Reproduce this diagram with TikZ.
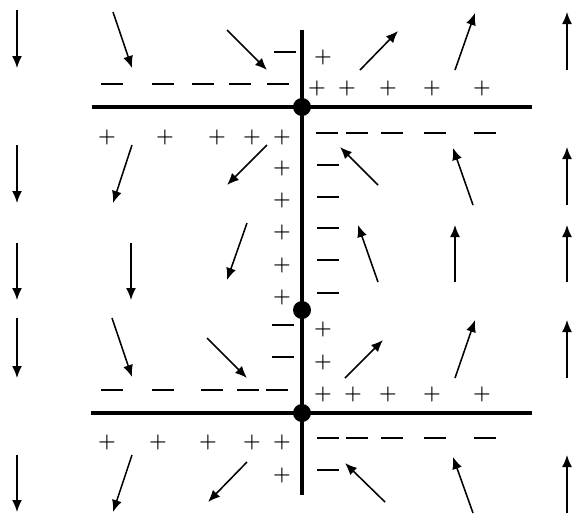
\documentclass[tikz,border=0pt]{standalone}
\usetikzlibrary{arrows.meta}
\tikzset{
  field/.style={line width=1.1pt,-{Latex[length=3mm,width=2.5mm]}},
  plate/.style={line width=3.2pt},
  joint/.style={circle,fill,inner sep=0pt,minimum size=0.45cm},
  poschg/.style={font=\Large\bfseries,inner sep=0pt},
  negchg/.style={inner sep=0pt}
}
\newcommand{\pls}{+}
\newcommand{\mns}{\rule{0.55cm}{1pt}}

\begin{document}
\begin{tikzpicture}[x=0.025cm,y=-0.025cm]
\useasboundingbox (0,0) rectangle (572,516);
% plates
\draw[plate](302,30)--(302,495);
\draw[plate](92,107)--(532,107);
\draw[plate](91,413)--(532,413);
\node[joint] (j1) at (302,107) {};
\node[joint] (j2) at (302,310) {};
\node[joint] (j3) at (302,413) {};
% charges above upper plate
\foreach \x [count=\i] in {112,163,203,240,278}
  \node[negchg] (nu\i) at (\x,84) {\mns};
\foreach \x [count=\i] in {317,347,388,432,482}
  \node[poschg] (pu\i) at (\x,88) {\pls};
\node[negchg] (nt) at (285,52) {\mns};
\node[poschg] (pt) at (323,57) {\pls};
% charges below upper plate
\foreach \x [count=\i] in {107,165,217,252,282}
  \node[poschg] (pl\i) at (\x,137) {\pls};
\foreach \y [count=\i] in {168,200,232,265,297}
  \node[poschg] (pc\i) at (282,\y) {\pls};
\foreach \x [count=\i] in {327,357,392,435,485}
  \node[negchg] (nl\i) at (\x,133) {\mns};
\foreach \y [count=\i] in {165,197,228,260,293}
  \node[negchg] (nc\i) at (328,\y) {\mns};
% charges above lower plate
\foreach \y [count=\i] in {325,357}
  \node[negchg] (nm\i) at (283,\y) {\mns};
\foreach \x [count=\i] in {112,163,212,248,277}
  \node[negchg] (nr\i) at (\x,390) {\mns};
\foreach \y [count=\i] in {329,362}
  \node[poschg] (pm\i) at (323,\y) {\pls};
\foreach \x [count=\i] in {323,353,388,432,482}
  \node[poschg] (pr\i) at (\x,394) {\pls};
% charges below lower plate
\foreach \x [count=\i] in {107,158,208,252,282}
  \node[poschg] (pb\i) at (\x,442) {\pls};
\node[poschg] (pe) at (282,475) {\pls};
\foreach \x [count=\i] in {328,357,392,435,485}
  \node[negchg] (nb\i) at (\x,438) {\mns};
\node[negchg] (ne) at (328,470) {\mns};
% field arrows
\foreach \a/\b in {10/68,145/203,243/300,318/378,455/512}
  \draw[field](17,\a)--(17,\b);
\draw[field](113,12)--(132,68);
\draw[field](132,145)--(113,203);
\draw[field](131,243)--(131,300);
\draw[field](112,318)--(132,377);
\draw[field](132,455)--(113,512);
\draw[field](227,30)--(267,70);
\draw[field](267,145)--(227,185);
\draw[field](247,223)--(227,280);
\draw[field](207,338)--(247,378);
\draw[field](247,462)--(208,502);
\draw[field](360,70)--(398,31);
\draw[field](378,185)--(340,147);
\draw[field](378,282)--(358,225);
\draw[field](345,378)--(383,340);
\draw[field](385,502)--(345,463);
\draw[field](455,70)--(475,13);
\draw[field](473,205)--(453,148);
\draw[field](455,282)--(455,225);
\draw[field](455,378)--(475,320);
\draw[field](473,513)--(453,457);
\foreach \a/\b in {70/12,205/147,282/225,378/320,513/455}
  \draw[field](567,\a)--(567,\b);
\end{tikzpicture}
\end{document}
